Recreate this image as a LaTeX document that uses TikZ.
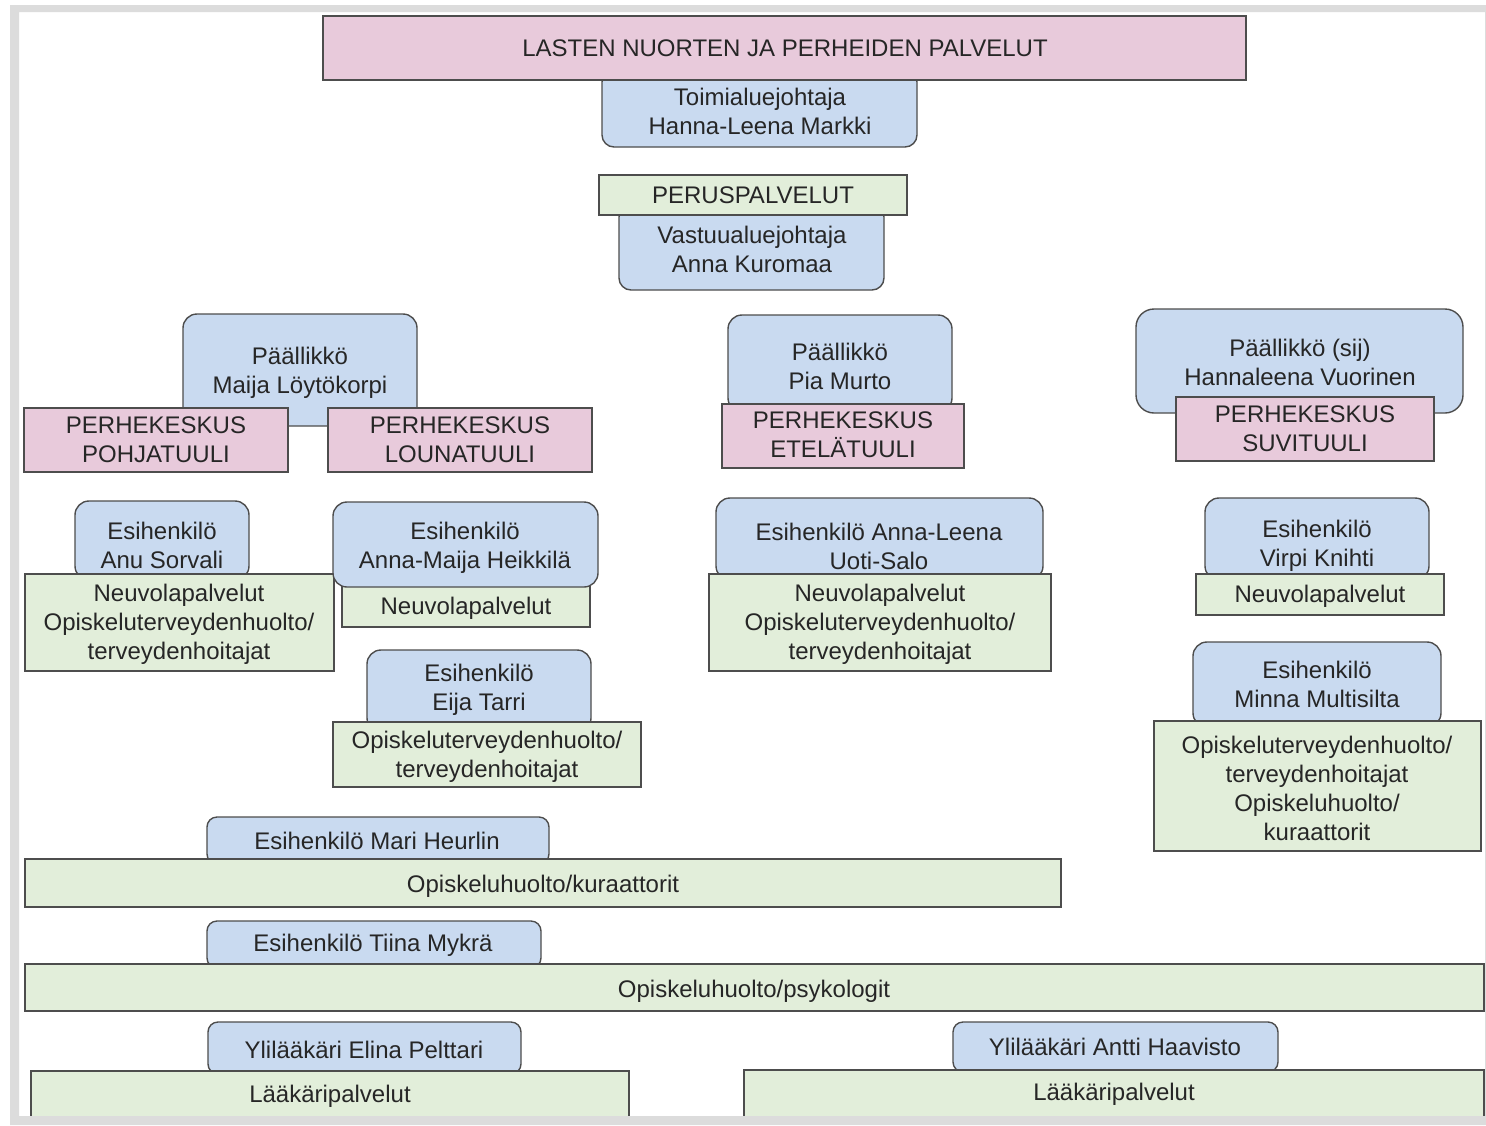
\documentclass[tikz,border=0pt]{standalone}
\usepackage{fontspec}
\setmainfont{Liberation Sans}
\definecolor{pinkf}{HTML}{E8CADB}
\definecolor{bluef}{HTML}{C9DAF0}
\definecolor{greenf}{HTML}{E2EEDA}
\definecolor{edgec}{HTML}{4D4D4D}
\definecolor{txtc}{HTML}{262626}
\definecolor{framec}{HTML}{DCDCDC}
% style, name, x1, y1, x2, y2, text position, text
\newcommand\obox[8]{%
  \node[#1, minimum width={(#5-#3)*1pt}, minimum height={(#6-#4)*1pt}] (#2) at (#3,#4) {};
  \node[txt] (#2t) at (#7) {#8};}
\begin{document}
\begin{tikzpicture}[x=1pt,y=-1pt,
  base/.style={draw=edgec, line width=1.4pt, inner sep=0pt, outer sep=0pt, anchor=north west},
  pinkbox/.style={base, fill=pinkf},
  bluebox/.style={base, fill=bluef, rounded corners=14pt},
  greenbox/.style={base, fill=greenf},
  txt/.style={text=txtc, font=\fontsize{24}{29}\selectfont, align=center, inner sep=0pt}]
\useasboundingbox (0,0) rectangle (1486,1125);
\fill[white] (0,0) rectangle (1486,1125);

% top
\obox{bluebox, rounded corners=12pt}{toim}{602}{70}{917}{147}{760,111.5}{Toimialuejohtaja\\Hanna-Leena Markki}
\obox{pinkbox}{lnpp}{323}{16}{1246}{80}{785,48}{LASTEN NUORTEN JA PERHEIDEN PALVELUT}
\obox{bluebox, rounded corners=12pt}{vast}{619}{205}{884}{290}{752,249.5}{Vastuualuejohtaja\\Anna Kuromaa}
\obox{greenbox}{perus}{599}{175}{907}{215}{753,195}{PERUSPALVELUT}

% paallikot
\obox{bluebox}{maija}{183}{314}{417}{426}{300,372.5}{Päällikkö\\Maija Löytökorpi}
\obox{pinkbox}{pohja}{24}{408}{288}{472}{156,439.5}{PERHEKESKUS\\POHJATUULI}
\obox{pinkbox}{louna}{328}{408}{592}{472}{460,439.5}{PERHEKESKUS\\LOUNATUULI}
\obox{bluebox}{pia}{728}{315}{952}{412}{840,366.5}{Päällikkö\\Pia Murto}
\obox{pinkbox}{etela}{722}{404}{964}{468}{843,435}{PERHEKESKUS\\ETELÄTUULI}
\obox{bluebox, rounded corners=18pt}{hanna}{1136}{309}{1463}{413}{1300,362.5}{Päällikkö (sij)\\Hannaleena Vuorinen}
\obox{pinkbox}{suvi}{1176}{397}{1434}{461}{1305,428.5}{PERHEKESKUS\\SUVITUULI}

% esihenkilot
\obox{bluebox}{anu}{75}{501}{249}{580}{162,545}{Esihenkilö\\Anu Sorvali}
\obox{greenbox}{neuvoA}{25}{574}{334}{671}{179,624.5}{Neuvolapalvelut\\Opiskeluterveydenhuolto/\\terveydenhoitajat}
\obox{greenbox}{neuvoB}{342}{585}{590}{627}{466,608}{Neuvolapalvelut}
\obox{bluebox}{annamaija}{333}{502}{598}{587}{465,547.5}{Esihenkilö\\Anna-Maija Heikkilä}
\obox{bluebox}{eija}{367}{650}{591}{732}{479,690}{Esihenkilö\\Eija Tarri}
\obox{greenbox}{opisB}{333}{722}{641}{787}{487,756.5}{Opiskeluterveydenhuolto/\\terveydenhoitajat}
\obox{bluebox}{annaleena}{716}{498}{1043}{580}{879,546}{Esihenkilö Anna-Leena\\Uoti-Salo}
\obox{greenbox}{neuvoC}{709}{574}{1051}{671}{880,624.5}{Neuvolapalvelut\\Opiskeluterveydenhuolto/\\terveydenhoitajat}
\obox{bluebox}{virpi}{1205}{498}{1429}{580}{1317,545.5}{Esihenkilö\\Virpi Knihti}
\obox{greenbox}{neuvoD}{1196}{574}{1444}{615}{1320,596}{Neuvolapalvelut}
\obox{bluebox}{minna}{1193}{642}{1441}{727}{1317,684.5}{Esihenkilö\\Minna Multisilta}
\obox{greenbox}{opisD}{1154}{721}{1481}{851}{1317,788}{Opiskeluterveydenhuolto/\\terveydenhoitajat\\Opiskeluhuolto/\\kuraattorit}

% wide rows
\obox{bluebox, rounded corners=10pt}{mari}{207}{817}{549}{864}{377,841}{Esihenkilö Mari Heurlin}
\obox{greenbox}{kura}{25}{859}{1061}{907}{543,886}{Opiskeluhuolto/kuraattorit}
\obox{bluebox, rounded corners=10pt}{tiina}{207}{921}{541}{968}{373,945}{Esihenkilö Tiina Mykrä}
\obox{greenbox}{psyk}{25}{964}{1484}{1011}{754,991}{Opiskeluhuolto/psykologit}
\obox{bluebox, rounded corners=10pt}{elina}{208}{1022}{521}{1074}{364,1050}{Ylilääkäri Elina Pelttari}
\obox{greenbox}{laakA}{31}{1071}{629}{1122}{330,1096}{Lääkäripalvelut}
\obox{bluebox, rounded corners=10pt}{antti}{953}{1022}{1278}{1072}{1115,1047}{Ylilääkäri Antti Haavisto}
\obox{greenbox}{laakB}{744}{1070}{1484}{1122}{1114,1094}{Lääkäripalvelut}

% screenshot frame
\fill[framec, even odd rule] (10,5) rectangle (1486,1125) (19,12) rectangle (1485,1116);
\end{tikzpicture}
\end{document}
